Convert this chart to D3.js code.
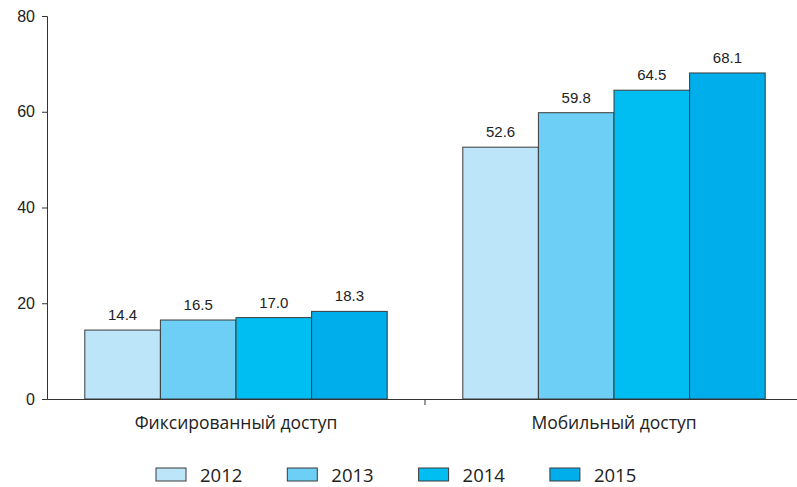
<!DOCTYPE html>
<html><head><meta charset="utf-8">
<script src="https://cdn.jsdelivr.net/npm/d3@7"></script>
<style>body{margin:0;background:#fff}svg{display:block}</style>
</head><body>
<svg id="c" width="797" height="487"></svg>
<script>
const categories = ["Фиксированный доступ", "Мобильный доступ"];
const years = ["2012", "2013", "2014", "2015"];
const values2012 = [14.4, 52.6];
const values2013 = [16.5, 59.8];
const values2014 = [17.0, 64.5];
const values2015 = [18.3, 68.1];
const yTicks = [0, 20, 40, 60, 80];
const colors = ["#bce5f9", "#6dcff6", "#00bef2", "#00aeeb"];

const series = [values2012, values2013, values2014, values2015];
const svg = d3.select("#c");
const x0 = d3.scaleBand().domain(categories).range([47, 803]).paddingInner(0).paddingOuter(0);
const x1 = d3.scaleBand().domain(years).range([0, x0.bandwidth()]).paddingOuter(0.5).paddingInner(0);
const y = d3.scaleLinear().domain([0, 80]).range([399, 16]);

const yAxis = svg.append("g").attr("transform", "translate(47,0)")
  .call(d3.axisLeft(y).tickValues(yTicks).tickSize(5).tickPadding(7).tickFormat(d3.format("d")));
yAxis.select(".domain").attr("stroke", "#333");
yAxis.selectAll(".tick line").attr("stroke", "#333");
yAxis.selectAll("text").attr("font-family", "Liberation Sans, Arial, sans-serif").attr("font-size", 16).attr("fill", "#222");

const groups = svg.append("g").selectAll("g").data(categories).join("g")
  .attr("transform", d => `translate(${x0(d)},0)`);
groups.each(function(cat, ci) {
  const g = d3.select(this);
  years.forEach((yr, si) => {
    const v = series[si][ci];
    g.append("rect").attr("x", x1(yr)).attr("y", y(v))
      .attr("width", x1.bandwidth()).attr("height", y(0) - y(v))
      .attr("fill", colors[si]).attr("stroke", "#3a3a3a").attr("stroke-width", 1);
    g.append("text").attr("x", x1(yr) + x1.bandwidth() / 2).attr("y", y(v) - 10)
      .attr("text-anchor", "middle").attr("font-family", "Liberation Sans, Arial, sans-serif")
      .attr("font-size", 15).attr("fill", "#222").text(v.toFixed(1));
  });
});

const xAxis = svg.append("g").attr("transform", "translate(0,399)")
  .call(d3.axisBottom(x0).tickSize(0).tickPadding(0).tickFormat(""));
xAxis.select(".domain").attr("stroke", "#333");
xAxis.selectAll(".tick").remove();
svg.append("line").attr("x1", x0(categories[1])).attr("x2", x0(categories[1]))
  .attr("y1", 399).attr("y2", 405).attr("stroke", "#333");
svg.append("g").selectAll("text").data(categories).join("text")
  .attr("x", d => x0(d) + x0.bandwidth() / 2).attr("y", 429)
  .attr("text-anchor", "middle").attr("font-family", "Open Sans, sans-serif")
  .attr("font-size", 17.5).attr("fill", "#222").text(d => d);

const legend = svg.append("g").selectAll("g").data(years).join("g")
  .attr("transform", (d, i) => `translate(${156 + i * 131.3},468)`);
legend.append("rect").attr("width", 30).attr("height", 13)
  .attr("fill", (d, i) => colors[i]).attr("stroke", "#3a3a3a");
legend.append("text").attr("x", 44).attr("y", 14).attr("font-family", "Open Sans, sans-serif")
  .attr("font-size", 18.5).attr("fill", "#222").text(d => d);
</script>
</body></html>
